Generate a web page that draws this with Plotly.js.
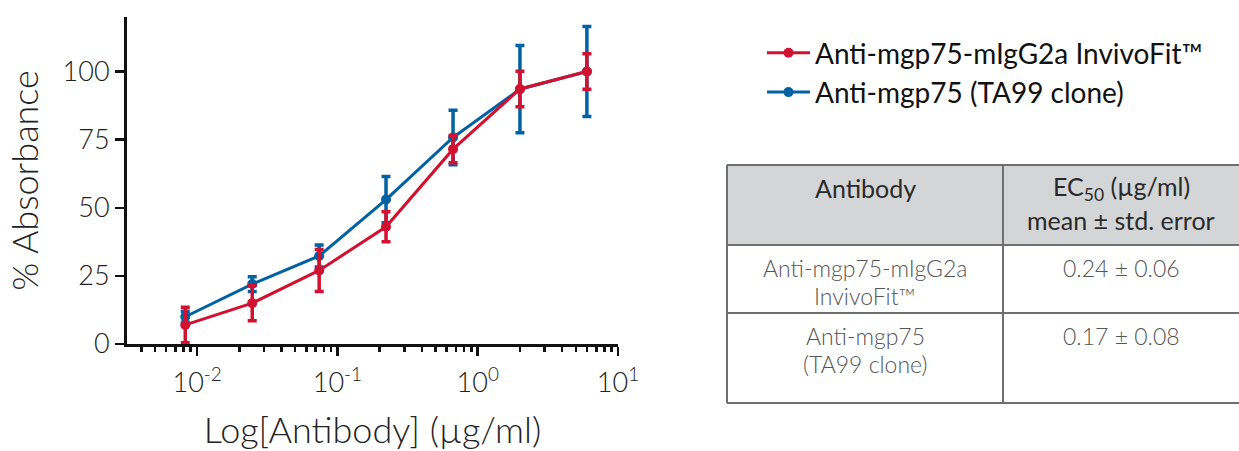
<!DOCTYPE html>
<html>
<head>
<meta charset="utf-8">
<script src="https://cdn.plot.ly/plotly-3.0.1.min.js"></script>
<style>
  html, body { margin: 0; padding: 0; background: #fff; }
  #chart { width: 1239px; height: 451px; }
</style>
</head>
<body>
<div id="chart"></div>
<script>
// ---- data ----
const concentrations = [0.00823, 0.0247, 0.0741, 0.222, 0.667, 2, 6];
const invivofitMean = [7, 15, 27, 43, 71.5, 93.6, 100];
const invivofitErr = [6.5, 6.5, 7.7, 5.5, 5, 6.5, 6.5];
const ta99Mean = [10, 22, 32.3, 53, 75.8, 93.5, 100];
const ta99Err = [2, 2.7, 4, 8.5, 10, 16, 16.5];
const seriesNames = ["Anti-mgp75-mIgG2a InvivoFit™", "Anti-mgp75 (TA99 clone)"];
const yTickValues = [0, 25, 50, 75, 100];
const xTickValues = [0.01, 0.1, 1, 10];
const xTickLabels = ["10<sup>-2</sup>", "10<sup>-1</sup>", "10<sup>0</sup>", "10<sup>1</sup>"];

const tableHeader = ["Antibody", "EC<sub>50</sub> (µg/ml)<br>mean ± std. error"];
const tableAntibodies = ["Anti-mgp75-mIgG2a<br>InvivoFit™", "Anti-mgp75<br>(TA99 clone)"];
const tableEC50 = ["0.24 ± 0.06", "0.17 ± 0.08"];

// ---- style ----
const RED = "#d2102f";
const BLUE = "#0062a3";
const W = 1239, H = 451;
const plotL = 127, plotR = 618, plotT = 17, plotB = 344;
const px2x = p => (p - plotL) / (plotR - plotL);
const px2y = p => (plotB - p) / (plotB - plotT);

function series(name, x, y, err, color, rank) {
  return {
    type: "scatter", mode: "lines+markers", name: name,
    x: x, y: y,
    line: { color: color, width: 3 },
    marker: { color: color, size: 10, symbol: "circle" },
    error_y: { type: "data", array: err, visible: true, color: color, thickness: 3.5, width: 4.5 },
    legendrank: rank,
    cliponaxis: false
  };
}

const traces = [
  series(seriesNames[1], concentrations, ta99Mean, ta99Err, BLUE, 2),
  series(seriesNames[0], concentrations, invivofitMean, invivofitErr, RED, 1)
];

// ---- table (shapes + annotations) ----
const tblL = 727, tblM = 1003, tblR = 1241;
const rowY = [165, 245, 313, 403];
const lineColor = "#6e6e6e";
const shapes = [];
const annotations = [];
shapes.push({ type: "rect", xref: "paper", yref: "paper",
  x0: px2x(tblL), x1: px2x(tblR), y0: px2y(rowY[0]), y1: px2y(rowY[1]),
  fillcolor: "#d4d5d7", line: { width: 0 }, layer: "below" });
rowY.forEach(y => shapes.push({ type: "line", xref: "paper", yref: "paper",
  x0: px2x(tblL), x1: px2x(tblR), y0: px2y(y), y1: px2y(y),
  line: { color: lineColor, width: 2 } }));
[tblL, tblM].forEach(x => shapes.push({ type: "line", xref: "paper", yref: "paper",
  x0: px2x(x), x1: px2x(x), y0: px2y(rowY[0]), y1: px2y(rowY[3]),
  line: { color: lineColor, width: 2 } }));

const colC = [(tblL + tblM) / 2, (tblM + tblR) / 2 - 1];
const headFont = { family: "Lato, sans-serif", size: 25, color: "#2a2a2a", weight: 400 };
const bodyFont = { family: "Lato, sans-serif", size: 23, color: "#555555", weight: 300 };
function cellText(text, cx, topPx, font, gap) {
  text.split("<br>").forEach((line, i) => {
    annotations.push({ xref: "paper", yref: "paper", x: px2x(cx), y: px2y(topPx + 23 + i * gap),
      xanchor: "center", yanchor: "middle", text: line, showarrow: false, align: "center", font: font });
  });
}
cellText(tableHeader[0], colC[0], rowY[0], headFont, 32);
cellText(tableHeader[1], colC[1], rowY[0], headFont, 32);
for (let i = 0; i < tableAntibodies.length; i++) {
  cellText(tableAntibodies[i], colC[0], rowY[i + 1], bodyFont, 28);
  cellText(tableEC50[i], colC[1], rowY[i + 1], bodyFont, 28);
}

const tickFont = { family: "Lato, sans-serif", size: 27, color: "#222222", weight: 300 };
const titleFont = { family: "Lato, sans-serif", size: 36, color: "#222222", weight: 300 };

const layout = {
  width: W, height: H,
  margin: { l: plotL, r: W - plotR, t: plotT, b: H - plotB },
  paper_bgcolor: "#ffffff", plot_bgcolor: "#ffffff",
  showlegend: true,
  legend: {
    x: px2x(762), y: px2y(28), xanchor: "left", yanchor: "top",
    font: { family: "Lato, sans-serif", size: 28, color: "#111111" },
    bgcolor: "rgba(0,0,0,0)", itemwidth: 43, tracegroupgap: 0
  },
  xaxis: {
    type: "log", range: [-2.5, 1], tickvals: xTickValues, ticktext: xTickLabels,
    showgrid: false, zeroline: false,
    showline: true, linecolor: "#111111", linewidth: 3,
    ticks: "outside", ticklen: 9, tickwidth: 2.5, tickcolor: "#111111",
    tickfont: tickFont, ticklabelstandoff: 4,
    minor: { ticks: "outside", ticklen: 5, tickwidth: 2.5, tickcolor: "#111111", dtick: "D1", showgrid: false },
    title: { text: "Log[Antibody] (µg/ml)", font: titleFont, standoff: 30 },
    fixedrange: true
  },
  yaxis: {
    range: [0, 120], tickvals: yTickValues, ticktext: yTickValues.map(String),
    showgrid: false, zeroline: false,
    showline: true, linecolor: "#111111", linewidth: 3,
    ticks: "outside", ticklen: 9, tickwidth: 2.5, tickcolor: "#111111",
    tickfont: tickFont,
    title: { text: "% Absorbance", font: titleFont, standoff: 14 },
    fixedrange: true
  },
  shapes: shapes,
  annotations: annotations
};

Plotly.newPlot("chart", traces, layout, { staticPlot: true, displayModeBar: false });
</script>
</body>
</html>
